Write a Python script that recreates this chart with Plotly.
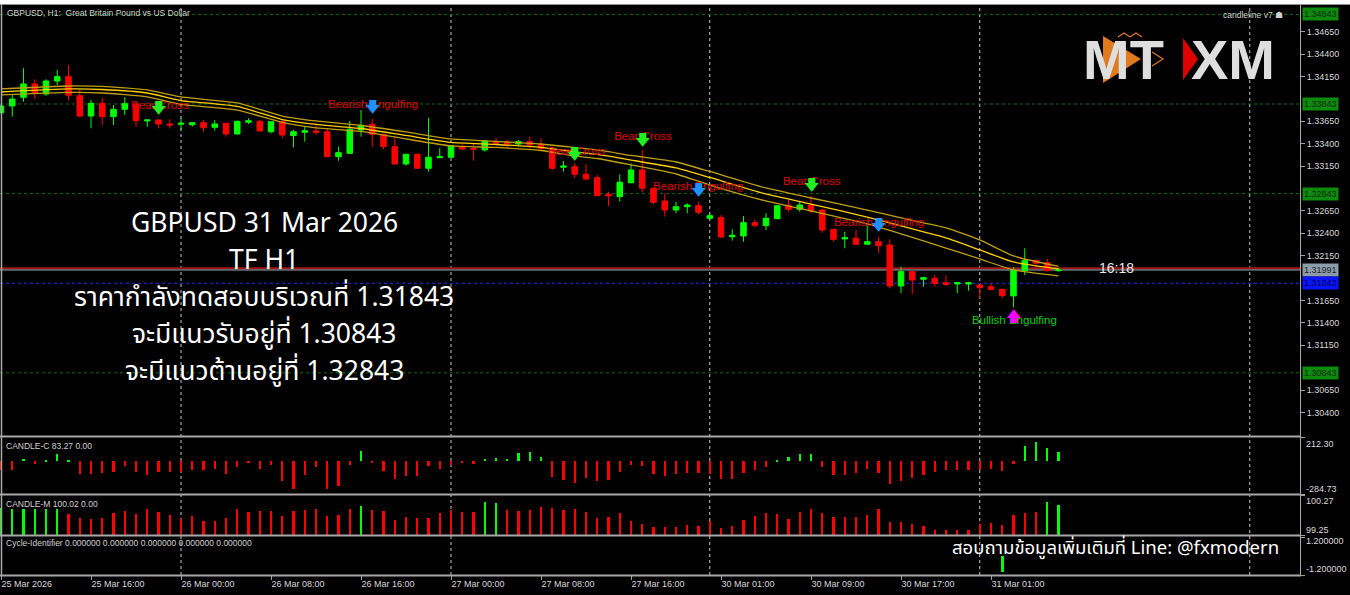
import plotly.graph_objects as go

W, H = 1350, 595

# ---------------- data ----------------
bars = list(range(95))  # H1 bars from 25 Mar 08:00 to 31 Mar 06:00

opens = [
    1.33746, 1.33821, 1.33918, 1.34067, 1.33955, 1.34100, 1.34148, 1.33936, 1.33709, 1.33851,
    1.33702, 1.33784, 1.33843, 1.33654, 1.33665, 1.33620, 1.33617, 1.33612, 1.33635, 1.33583,
    1.33628, 1.33509, 1.33639, 1.33650, 1.33534, 1.33646, 1.33490, 1.33528, 1.33542, 1.33534,
    1.33255, 1.33293, 1.33553, 1.33617, 1.33505, 1.33367, 1.33174, 1.33282, 1.33126, 1.33244,
    1.33249, 1.33367, 1.33349, 1.33330, 1.33423, 1.33416, 1.33397, 1.33423, 1.33394, 1.33349,
    1.33137, 1.33144, 1.33059, 1.33021, 1.32836, 1.32809, 1.32965, 1.33107, 1.32903, 1.32761,
    1.32660, 1.32697, 1.32708, 1.32568, 1.32577, 1.32362, 1.32370, 1.32519, 1.32485, 1.32563,
    1.32713, 1.32668, 1.32716, 1.32660, 1.32445, 1.32337, 1.32345, 1.32278, 1.32307, 1.32270,
    1.31812, 1.31972, 1.31887, 1.31898, 1.31849, 1.31835, 1.31835, 1.31823, 1.31804, 1.31775,
    1.31701, 1.31983, 1.32095, 1.32072, 1.31983]
highs = [
    1.33832, 1.33955, 1.34242, 1.34119, 1.34119, 1.34223, 1.34279, 1.34007, 1.33888, 1.33914,
    1.33832, 1.33918, 1.33869, 1.33665, 1.33670, 1.33673, 1.33684, 1.33637, 1.33665, 1.33665,
    1.33631, 1.33657, 1.33684, 1.33665, 1.33648, 1.33665, 1.33553, 1.33590, 1.33628, 1.33572,
    1.33367, 1.33654, 1.33776, 1.33676, 1.33509, 1.33467, 1.33285, 1.33291, 1.33690, 1.33349,
    1.33386, 1.33391, 1.33405, 1.33442, 1.33467, 1.33442, 1.33442, 1.33478, 1.33461, 1.33364,
    1.33207, 1.33182, 1.33170, 1.33051, 1.32865, 1.33059, 1.33182, 1.33330, 1.32906, 1.32847,
    1.32753, 1.32735, 1.32753, 1.32624, 1.32605, 1.32445, 1.32593, 1.32557, 1.32624, 1.32716,
    1.32772, 1.32753, 1.32817, 1.32666, 1.32448, 1.32418, 1.32437, 1.32512, 1.32362, 1.32333,
    1.32028, 1.31974, 1.31916, 1.31935, 1.31935, 1.31851, 1.31860, 1.31825, 1.31842, 1.31779,
    1.32021, 1.32233, 1.32110, 1.32117, 1.32013]
lows = [
    1.33737, 1.33702, 1.33869, 1.33896, 1.33933, 1.34055, 1.33888, 1.33695, 1.33572, 1.33609,
    1.33609, 1.33721, 1.33590, 1.33590, 1.33572, 1.33572, 1.33553, 1.33590, 1.33534, 1.33545,
    1.33478, 1.33503, 1.33620, 1.33537, 1.33516, 1.33461, 1.33360, 1.33423, 1.33497, 1.33252,
    1.33211, 1.33291, 1.33478, 1.33367, 1.33338, 1.33168, 1.33155, 1.33124, 1.33088, 1.33241,
    1.33246, 1.33330, 1.33211, 1.33311, 1.33386, 1.33349, 1.33386, 1.33349, 1.33330, 1.33107,
    1.33088, 1.33014, 1.32995, 1.32817, 1.32705, 1.32753, 1.32958, 1.32858, 1.32724, 1.32586,
    1.32624, 1.32624, 1.32612, 1.32549, 1.32345, 1.32318, 1.32307, 1.32467, 1.32437, 1.32560,
    1.32641, 1.32641, 1.32624, 1.32407, 1.32307, 1.32233, 1.32270, 1.32275, 1.32184, 1.31787,
    1.31731, 1.31723, 1.31804, 1.31804, 1.31812, 1.31731, 1.31760, 1.31675, 1.31768, 1.31675,
    1.31575, 1.31935, 1.32028, 1.31972, 1.31974]
closes = [
    1.33821, 1.33899, 1.34067, 1.33963, 1.34100, 1.34148, 1.33941, 1.33709, 1.33851, 1.33702,
    1.33784, 1.33847, 1.33657, 1.33665, 1.33620, 1.33609, 1.33628, 1.33635, 1.33579, 1.33620,
    1.33509, 1.33650, 1.33657, 1.33542, 1.33646, 1.33497, 1.33534, 1.33545, 1.33528, 1.33255,
    1.33300, 1.33561, 1.33606, 1.33505, 1.33367, 1.33174, 1.33282, 1.33126, 1.33249, 1.33255,
    1.33378, 1.33341, 1.33338, 1.33430, 1.33405, 1.33397, 1.33423, 1.33386, 1.33349, 1.33126,
    1.33151, 1.33059, 1.33006, 1.32820, 1.32817, 1.32970, 1.33107, 1.32903, 1.32746, 1.32660,
    1.32697, 1.32716, 1.32635, 1.32597, 1.32359, 1.32378, 1.32519, 1.32490, 1.32568, 1.32708,
    1.32668, 1.32716, 1.32649, 1.32437, 1.32333, 1.32351, 1.32278, 1.32307, 1.32262, 1.31812,
    1.31972, 1.31879, 1.31905, 1.31842, 1.31831, 1.31849, 1.31849, 1.31793, 1.31775, 1.31704,
    1.31985, 1.32095, 1.32066, 1.31983, 1.31991]

# moving-average ribbon (read at these bar positions)
ma_idx = [0, 6, 9, 13, 16, 21, 25, 28, 32, 36, 40, 44, 48, 51, 53, 56, 60, 63, 68, 72, 77, 80, 84, 87, 90, 94]
ma_upper = [1.34011, 1.34044, 1.34039, 1.34000, 1.33922, 1.33855, 1.33709, 1.33654, 1.33603, 1.33531,
            1.33453, 1.33425, 1.33397, 1.33358, 1.33330, 1.33269, 1.33196, 1.33090, 1.32906, 1.32794,
            1.32660, 1.32571, 1.32460, 1.32326, 1.32147, 1.32030]
ma_mid = [1.33977, 1.34011, 1.34005, 1.33966, 1.33882, 1.33816, 1.33670, 1.33615, 1.33570, 1.33492,
          1.33414, 1.33391, 1.33358, 1.33308, 1.33280, 1.33218, 1.33129, 1.33023, 1.32839, 1.32727,
          1.32582, 1.32482, 1.32348, 1.32214, 1.32080, 1.32002]
ma_lower = [1.33944, 1.33972, 1.33966, 1.33922, 1.33838, 1.33776, 1.33637, 1.33576, 1.33537, 1.33453,
            1.33375, 1.33358, 1.33324, 1.33263, 1.33235, 1.33163, 1.33062, 1.32939, 1.32761, 1.32649,
            1.32504, 1.32393, 1.32236, 1.32114, 1.31991, 1.31924]

# pattern signals
bear_cross_idx = [14, 51, 57, 72]
bear_cross_arrow = [1.33788, 1.33274, 1.33430, 1.32928]
bear_engulf_idx = [33, 62, 78]
bear_engulf_arrow = [1.33793, 1.32872, 1.32476]
bull_engulf_idx = [90]
bull_engulf_arrow = [1.31466]
signal_labels = ["Bear Cross", "Bearish Engulfing", "Bear Cross", "Bear Cross",
                 "Bearish Engulfing", "Bear Cross", "Bearish Engulfing", "Bullish Engulfing"]
signal_label_x = [11.56, 29.07, 48.6, 54.5, 57.96, 69.5, 74.04, 86.3]
signal_label_y = [1.33824, 1.33832, 1.33311, 1.33478, 1.32917, 1.32976, 1.32519, 1.31425]

# indicator panels
candle_c = [-73, -73, 20, -20, 15, 64, 6, -110, -110, -102,
            -96, -38, -96, -116, -96, -96, -96, -78, -78, -67,
            -108, -52, -9, -67, -29, -174, -238, -116, -52, -241,
            -218, -29, 87, -9, -87, -154, -131, -131, -44, -67,
            -29, -12, -26, 23, 32, 23, 73, 78, 38, -140,
            -166, -189, -145, -174, -160, -96, -29, -44, -110, -131,
            -110, -102, -102, -110, -154, -151, -102, -73, -52, 6,
            38, 67, 67, -52, -116, -122, -102, -67, -102, -195,
            -174, -145, -116, -96, -78, -78, -73, -73, -67, -87,
            -23, 137, 169, 116, 83.27]
candle_m = [99.947, 99.905, 99.905, 99.905, 99.905, 99.905, 99.794, 99.675, 99.650, 99.675,
            99.803, 99.862, 99.794, 99.905, 99.837, 99.760, 99.650, 99.735, 99.607, 99.607,
            99.675, 99.922, 99.845, 99.862, 99.862, 99.726, 99.862, 99.888, 99.905, 99.726,
            99.760, 99.922, 99.990, 99.879, 99.862, 99.633, 99.709, 99.675, 99.692, 99.803,
            99.879, 99.837, 99.837, 100.092, 100.058, 99.879, 99.862, 99.888, 99.964, 99.930,
            99.879, 99.922, 99.837, 99.675, 99.709, 99.820, 99.607, 99.522, 99.463, 99.454,
            99.463, 99.505, 99.480, 99.607, 99.420, 99.480, 99.624, 99.735, 99.803, 99.777,
            99.650, 99.837, 99.905, 99.820, 99.718, 99.718, 99.718, 99.760, 99.905, 99.590,
            99.590, 99.522, 99.480, 99.369, 99.369, 99.369, 99.378, 99.539, 99.565, 99.505,
            99.760, 99.820, 99.837, 100.092, 100.02]
candle_m_up = {0, 1, 2, 3, 4, 5, 32, 43, 44, 93, 94}
cycle_idx = [89]
cycle_val = [-1.0]

# axes / levels
price_ticks = [1.34650, 1.34400, 1.34150, 1.33650, 1.33400, 1.33150, 1.32650,
               1.32400, 1.32150, 1.31650, 1.31400, 1.31150, 1.30650, 1.30400]
price_range = [1.30138, 1.34948]
c_range = [-284.73, 212.30]
m_range = [99.25, 100.27]
cyc_range = [-1.2, 1.2]
x_tick_idx = [0, 8, 16, 24, 32, 40, 48, 56, 64, 72, 80, 88]
x_tick_text = ["25 Mar 2026", "25 Mar 16:00", "26 Mar 00:00", "26 Mar 08:00", "26 Mar 16:00",
               "27 Mar 00:00", "27 Mar 08:00", "27 Mar 16:00", "30 Mar 01:00", "30 Mar 09:00",
               "30 Mar 17:00", "31 Mar 01:00"]
separator_idx = [16, 40, 63, 87, 111]
green_levels = [1.34843, 1.33843, 1.32843, 1.30843]
bid_price = 1.31991
ask_price = 1.32010
blue_level = 1.31843

# ---------------- helpers for layout positions (pixels -> paper) ----------------
def px(x):
    return x / W

def py(y):
    return 1 - y / H

PLOT_R = 1300
X_RANGE = [-1 / 11.25, (PLOT_R - 1) / 11.25]

GREEN = "#00ff00"
RED = "#ff0000"
AXF = "Liberation Sans"

fig = go.Figure()

fig.add_trace(go.Candlestick(
    x=bars, open=opens, high=highs, low=lows, close=closes,
    increasing=dict(line=dict(color=GREEN, width=1), fillcolor=GREEN),
    decreasing=dict(line=dict(color=RED, width=1), fillcolor=RED),
    whiskerwidth=0, xaxis="x", yaxis="y", showlegend=False, hoverinfo="skip"))

for vals, col in ((ma_upper, "#c0a010"), (ma_mid, "#ffd000"), (ma_lower, "#c0a010")):
    fig.add_trace(go.Scatter(x=ma_idx, y=vals, mode="lines",
                             line=dict(color=col, width=1.3, shape="spline", smoothing=0.5),
                             xaxis="x", yaxis="y", showlegend=False, hoverinfo="skip"))

# signal labels
label_colors = ["#e00000"] * 7 + ["#10d010"]
fig.add_trace(go.Scatter(x=signal_label_x, y=signal_label_y, mode="text", text=signal_labels,
                         textposition="middle right",
                         textfont=dict(family=AXF, size=11.5, color=label_colors),
                         xaxis="x", yaxis="y", showlegend=False, hoverinfo="skip"))
# arrows
fig.add_trace(go.Scatter(x=bear_cross_idx, y=bear_cross_arrow, mode="text", text=["🡇"] * 4,
                         textfont=dict(family="DejaVu Sans", size=15, color="#22ee22"),
                         xaxis="x", yaxis="y", showlegend=False, hoverinfo="skip"))
fig.add_trace(go.Scatter(x=bear_engulf_idx, y=bear_engulf_arrow, mode="text", text=["🡇"] * 3,
                         textfont=dict(family="DejaVu Sans", size=15, color="#2090ff"),
                         xaxis="x", yaxis="y", showlegend=False, hoverinfo="skip"))
fig.add_trace(go.Scatter(x=bull_engulf_idx, y=bull_engulf_arrow, mode="text", text=["🡅"],
                         textfont=dict(family="DejaVu Sans", size=15, color="#ff00ff"),
                         xaxis="x", yaxis="y", showlegend=False, hoverinfo="skip"))

# CANDLE-C
fig.add_trace(go.Bar(x=bars, y=candle_c, width=0.22,
                     marker=dict(color=[GREEN if v > 0 else RED for v in candle_c], line=dict(width=0)),
                     xaxis="x2", yaxis="y2", showlegend=False, hoverinfo="skip"))
# CANDLE-M
fig.add_trace(go.Bar(x=bars, y=candle_m, width=0.22,
                     marker=dict(color=[GREEN if i in candle_m_up else RED for i in bars], line=dict(width=0)),
                     xaxis="x3", yaxis="y3", showlegend=False, hoverinfo="skip"))
# Cycle identifier
fig.add_trace(go.Bar(x=cycle_idx, y=cycle_val, width=0.3,
                     marker=dict(color=GREEN, line=dict(width=0)),
                     xaxis="x4", yaxis="y4", showlegend=False, hoverinfo="skip"))

dom_x = [0, PLOT_R / W]
common_x = dict(range=X_RANGE, showgrid=False, zeroline=False, showticklabels=False,
                ticks="", showline=False, domain=dom_x)
axis_font = dict(family=AXF, size=9, color="#d8d8d8")

fig.update_layout(
    width=W, height=H, autosize=False,
    margin=dict(l=0, r=0, t=0, b=0, pad=0),
    paper_bgcolor="black", plot_bgcolor="black",
    showlegend=False, bargap=0,
    xaxis=dict(**common_x, anchor="y", rangeslider=dict(visible=False)),
    xaxis2=dict(**common_x, anchor="y2", matches="x"),
    xaxis3=dict(**common_x, anchor="y3", matches="x"),
    xaxis4=dict(range=X_RANGE, domain=dom_x, anchor="y4", matches="x", showgrid=False,
                zeroline=False, showline=False, tickmode="array", tickvals=x_tick_idx,
                ticktext=x_tick_text, ticks="outside", ticklen=4, tickcolor="#a0a0a0",
                ticklabelposition="outside right", tickfont=axis_font),
    yaxis=dict(domain=[py(436), py(5)], range=price_range, side="right", anchor="x",
               showgrid=False, zeroline=False, tickmode="array", tickvals=price_ticks,
               ticktext=[f"{v:.5f}" for v in price_ticks], ticks="outside", ticklen=4,
               tickcolor="#a0a0a0", tickfont=axis_font, showline=False),
    yaxis2=dict(domain=[py(494), py(437)], range=c_range, side="right", anchor="x2",
                showgrid=False, zeroline=False, showticklabels=False, tickmode="array",
                tickvals=c_range, ticks="outside", ticklen=4, tickcolor="#a0a0a0"),
    yaxis3=dict(domain=[py(535), py(495)], range=m_range, side="right", anchor="x3",
                showgrid=False, zeroline=False, showticklabels=False, tickmode="array",
                tickvals=m_range, ticks="outside", ticklen=4, tickcolor="#a0a0a0"),
    yaxis4=dict(domain=[py(575), py(537)], range=cyc_range, side="right", anchor="x4",
                showgrid=False, zeroline=False, showticklabels=False, tickmode="array",
                tickvals=cyc_range, ticks="outside", ticklen=4, tickcolor="#a0a0a0"),
)

shapes = []
# period separators across all panels
for s in separator_idx:
    shapes.append(dict(type="line", xref="x", yref="paper", x0=s, x1=s, y0=py(575), y1=py(5),
                       line=dict(color="#c8c8c8", width=1, dash="dot"), layer="below"))
# green dotted levels
for lv in green_levels:
    shapes.append(dict(type="line", xref="x domain", yref="y", x0=0, x1=1, y0=lv, y1=lv,
                       line=dict(color="#0b700b", width=1, dash="dot"), layer="below"))
shapes.append(dict(type="line", xref="x domain", yref="y", x0=0, x1=1, y0=blue_level, y1=blue_level,
                   line=dict(color="#2030ff", width=1, dash="dot"), layer="below"))
shapes.append(dict(type="line", xref="x domain", yref="y", x0=0, x1=1, y0=ask_price, y1=ask_price,
                   line=dict(color="#a01818", width=2), layer="below"))
shapes.append(dict(type="line", xref="x domain", yref="y", x0=0, x1=1, y0=bid_price, y1=bid_price,
                   line=dict(color="#a8b0b8", width=1), layer="below"))
# panel separators and frame
for yy in (436.5, 494.5, 535.5, 575.5):
    shapes.append(dict(type="line", xref="paper", yref="paper", x0=px(0), x1=px(1301), y0=py(yy), y1=py(yy),
                       line=dict(color="#a8a8a8", width=2)))
shapes.append(dict(type="rect", xref="paper", yref="paper", x0=0, x1=1, y0=py(4), y1=1,
                   fillcolor="white", line=dict(width=0)))
shapes.append(dict(type="line", xref="paper", yref="paper", x0=0, x1=1, y0=py(4.5), y1=py(4.5),
                   line=dict(color="#909090", width=1)))
shapes.append(dict(type="line", xref="paper", yref="paper", x0=px(1.5), x1=px(1.5), y0=py(576), y1=py(4),
                   line=dict(color="#a8a8a8", width=1.5)))
shapes.append(dict(type="line", xref="paper", yref="paper", x0=px(PLOT_R + 0.5), x1=px(PLOT_R + 0.5),
                   y0=py(576), y1=py(4), line=dict(color="#a8a8a8", width=1)))
# logo triangles
shapes.append(dict(type="path", xref="paper", yref="paper",
                   path=f"M {px(1103)},{py(36)} L {px(1141)},{py(59)} L {px(1103)},{py(83)} Z",
                   fillcolor="#e07a1c", line=dict(width=0)))
shapes.append(dict(type="path", xref="paper", yref="paper",
                   path=f"M {px(1183)},{py(38)} L {px(1198)},{py(59)} L {px(1183)},{py(80)} Z",
                   fillcolor="#e00000", line=dict(width=0)))
for (a, b) in ((1118, 33), (1130, 33)):
    shapes.append(dict(type="path", xref="paper", yref="paper",
                       path=f"M {px(a)},{py(b + 4)} L {px(a + 6)},{py(b)} L {px(a + 12)},{py(b + 4)}",
                       line=dict(color="#e07a1c", width=1.2)))
shapes.append(dict(type="path", xref="paper", yref="paper",
                   path=f"M {px(1152)},{py(52)} L {px(1163)},{py(59)} L {px(1152)},{py(66)}",
                   line=dict(color="#e07a1c", width=1.2)))
fig.update_layout(shapes=shapes)

ann = []

def text_ann(x, y, text, size, color, xanchor="left", family=AXF, **kw):
    ann.append(dict(xref="paper", yref="paper", x=px(x), y=py(y), text=text, showarrow=False,
                    xanchor=xanchor, yanchor="middle", font=dict(family=family, size=size, color=color), **kw))

text_ann(5, 13, "GBPUSD, H1:  Great Britain Pound vs US Dollar", 8.5, "#d0d0d0")
text_ann(1285, 15, "candleline v7 ☗", 8.5, "#d0d0d0", xanchor="right")
text_ann(4, 446, "CANDLE-C 83.27 0.00", 8.5, "#d0d0d0")
text_ann(4, 504, "CANDLE-M 100.02 0.00", 8.5, "#d0d0d0")
text_ann(4, 543, "Cycle-Identifier 0.000000 0.000000 0.000000 0.000000 0.000000", 8.5, "#d0d0d0")
for lab, yy in (("212.30", 444), ("-284.73", 489), ("100.27", 501), ("99.25", 530),
                ("1.200000", 541), ("-1.200000", 569)):
    text_ann(1304, yy, lab, 9, "#d8d8d8")

# right-axis price boxes
def price_box(price, text, bg, fg):
    ann.append(dict(xref="paper", yref="y", x=px(1302), y=price, text=text, showarrow=False,
                    xanchor="left", yanchor="middle", bgcolor=bg, borderpad=1,
                    font=dict(family=AXF, size=9, color=fg)))

for lv in green_levels:
    price_box(lv, f"{lv:.5f}", "#0e8a0e", "#0a2a0a")
price_box(bid_price, f"{bid_price:.5f}", "#8c9ca8", "#1c2430")
price_box(blue_level, f"{blue_level:.5f}", "#0a14ff", "#000050")

# countdown
text_ann(1116, 268, "16:18", 14, "#e8e8e8", xanchor="center")

# big overlay text
thai = "Noto Sans Thai, Noto Sans Thai UI, Loma, Garuda, Noto Sans, sans-serif"
for txt, yy in (("GBPUSD 31 Mar 2026", 224), ("TF H1", 261),
                ("ราคากำลังทดสอบบริเวณที่ 1.31843", 298),
                ("จะมีแนวรับอยู่ที่ 1.30843", 335),
                ("จะมีแนวต้านอยู่ที่ 1.32843", 372)):
    text_ann(264, yy, txt, 26.5, "white", xanchor="center", family=thai)
text_ann(1115, 548, "สอบถามข้อมูลเพิ่มเติมที่ Line: @fxmodern", 18.5, "white", xanchor="center", family=thai)

# logo letters
text_ann(1123, 60, "<b>MT</b>", 56, "#dedede", xanchor="center", family="Liberation Sans")
text_ann(1233, 60, "<b>XM</b>", 56, "#dedede", xanchor="center", family="Liberation Sans")

fig.update_layout(annotations=ann)

fig.write_html("out.html", config={"displayModeBar": False},
               post_script="document.body.style.margin='0';document.body.style.background='#000';")
